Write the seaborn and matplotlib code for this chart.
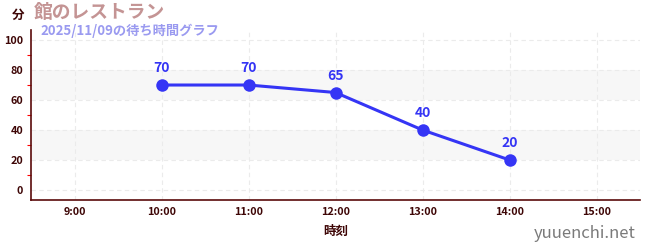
import matplotlib
matplotlib.use("Agg")
import matplotlib.pyplot as plt
import seaborn as sns
import pandas as pd
from matplotlib.ticker import FixedLocator

hours = [10, 11, 12, 13, 14]
waits = [70, 70, 65, 40, 20]
xtick_hours = [9, 10, 11, 12, 13, 14, 15]
xtick_labels = ["9:00", "10:00", "11:00", "12:00", "13:00", "14:00", "15:00"]
yticks = [0, 20, 40, 60, 80, 100]

sns.set_theme(style="white")
plt.rcParams['font.family'] = ['Noto Sans CJK JP', 'DejaVu Sans']

df = pd.DataFrame({"hour": hours, "wait": waits})

fig = plt.figure(figsize=(6.5, 2.5), dpi=100)
ax = fig.add_axes([31/650, 0.2, (640-31)/650, 0.68])

line_color = "#3535f5"
for lo, hi in [(20, 40), (60, 80)]:
    ax.axhspan(lo, hi, color="#f7f7f7", zorder=0, lw=0)

sns.lineplot(data=df, x="hour", y="wait", ax=ax, color=line_color, lw=2.2,
             marker="o", markersize=9, markeredgewidth=0, zorder=3)
for h, w in zip(hours, waits):
    ax.annotate(str(w), (h, w), xytext=(0, 7), textcoords="offset points",
                ha="center", va="bottom", color=line_color, fontsize=10,
                fontweight="bold")

ax.set_xlim(8.5, 15.5)
ax.set_ylim(-6.7, 106.7)
ax.set_xticks(xtick_hours)
ax.set_xticklabels(xtick_labels)
ax.set_yticks(yticks)
ax.yaxis.set_minor_locator(FixedLocator([10, 30, 50, 70, 90]))

tick_color = "#3e0606"
ax.tick_params(axis="both", which="major", labelsize=7.8, colors=tick_color,
               length=4, width=0.8, direction="inout")
ax.tick_params(axis="y", which="minor", length=3, color="red", width=0.8, left=True)
ax.tick_params(axis="x", which="major", length=3)
for lab in ax.get_xticklabels() + ax.get_yticklabels():
    lab.set_fontweight("bold")

ax.grid(True, which="major", color="#ebebeb", ls=(0, (4, 3)), lw=0.8)
for s in ["top", "right"]:
    ax.spines[s].set_visible(False)
for s in ["left", "bottom"]:
    ax.spines[s].set_color("#5a0a0a")
    ax.spines[s].set_linewidth(1.2)

ax.set_xlabel("時刻", fontsize=9, color=tick_color, fontweight="bold", labelpad=6)
ax.set_ylabel("")

fig.text(12/650, 1-15/250, "分", fontsize=9, color=tick_color, fontweight="bold",
         ha="left", va="center")
fig.text(34/650, 1-13/250, "館のレストラン", fontsize=13.5, color="#c49494",
         fontweight="bold", ha="left", va="center")
fig.text(40/650, 1-31/250, "2025/11/09の待ち時間グラフ", fontsize=9.5, color="#9a9af0",
         fontweight="bold", ha="left", va="center")
fig.text(636/650, 1-233/250, "yuuenchi.net", fontsize=12, color="#7a7a7a",
         ha="right", va="center")

fig.savefig("out.png", dpi=100)
